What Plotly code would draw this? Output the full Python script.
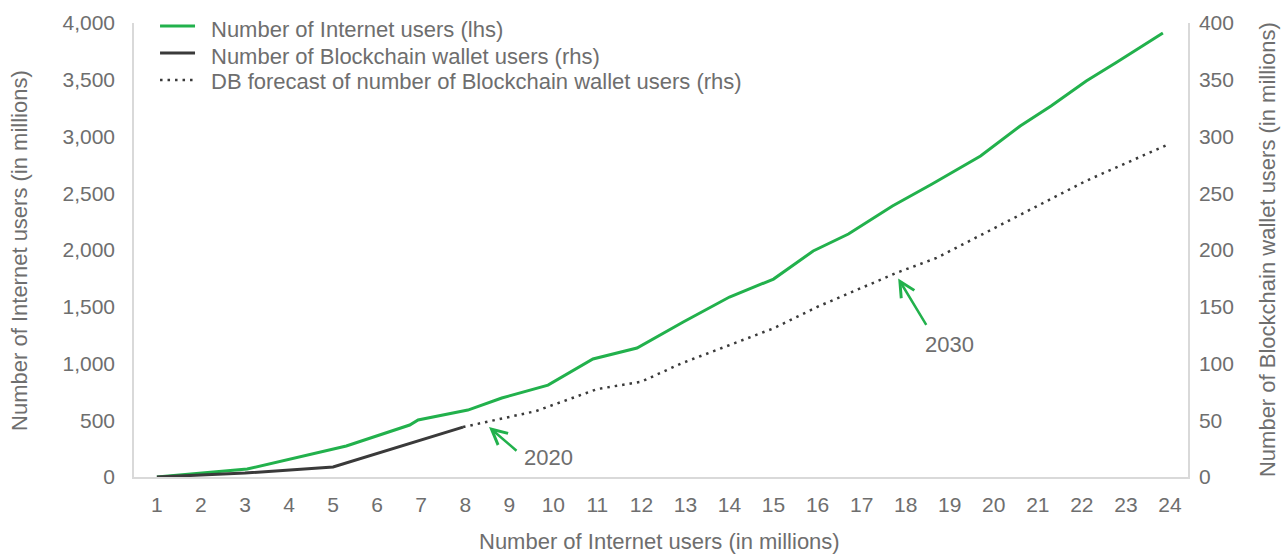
import plotly.graph_objects as go

# Data
internet_x = [1, 3.05, 5.3, 6.74, 6.93, 8.06, 8.83, 9.88, 10.9, 11.9, 12.95, 14.0, 15.0,
              15.9, 16.7, 17.7, 18.6, 19.7, 20.6, 21.3, 22.1, 22.8, 23.84]
internet_users = [0, 70, 273, 458, 502, 590, 696, 810, 1040, 1136, 1366, 1586, 1744,
                  1991, 2141, 2388, 2581, 2828, 3092, 3269, 3489, 3656, 3912]

wallet_x = [1, 3.0, 5.0, 6.8, 7.95]
wallet_users = [0, 3.5, 8.8, 30, 44]

forecast_x = [7.95, 9.6, 11.0, 12.0, 12.9, 15.0, 16.0, 17.8, 18.7, 22.1, 23.9]
forecast_users = [44, 58, 77.5, 84, 100, 131, 150, 180, 193, 261, 292]

series_names = ["Number of Internet users (lhs)",
                "Number of Blockchain wallet users (rhs)",
                "DB forecast of number of Blockchain wallet users (rhs)"]

x_ticks = list(range(1, 25))
left_ticks = list(range(0, 4001, 500))
right_ticks = list(range(0, 401, 50))

GREEN = "#22b14c"
DARK = "#3a3a3a"
GREY = "#6e6e6e"
AXIS = "#d9d9d9"
FONT = "Liberation Sans, Arial, sans-serif"
DOT = "2.5px,5px"

fig = go.Figure()
fig.add_trace(go.Scatter(x=internet_x, y=internet_users, mode="lines",
                         name=series_names[0],
                         line=dict(color=GREEN, width=3), yaxis="y"))
fig.add_trace(go.Scatter(x=wallet_x, y=wallet_users, mode="lines",
                         name=series_names[1],
                         line=dict(color=DARK, width=3), yaxis="y2"))
fig.add_trace(go.Scatter(x=forecast_x, y=forecast_users, mode="lines",
                         name=series_names[2],
                         line=dict(color=DARK, width=2.5, dash=DOT), yaxis="y2"))

# Legend drawn as key lines + text (top-left inside plot)
legend_styles = [dict(color=GREEN, width=3), dict(color=DARK, width=3),
                 dict(color=DARK, width=2.5, dash=DOT)]
line_y = [0.9934, 0.9339, 0.8744]
text_y = [0.9846, 0.9273, 0.8722]
for name, st, ly, ty in zip(series_names, legend_styles, line_y, text_y):
    fig.add_shape(type="line", xref="paper", yref="paper", x0=0.0247, x1=0.0579,
                  y0=ly, y1=ly, line=st)
    fig.add_annotation(x=0.0712, y=ty, xref="paper", yref="paper", text=name,
                       showarrow=False, xanchor="left", yanchor="middle",
                       font=dict(size=22, color=GREY, family=FONT))

# Arrows (no text) and labels
fig.add_annotation(x=8.54, y=44, xref="x", yref="y2", ax=29, ay=25, text="",
                   showarrow=True, arrowhead=5, arrowsize=1.2, arrowwidth=2.5, arrowcolor=GREEN)
fig.add_annotation(x=17.83, y=175, xref="x", yref="y2", ax=29, ay=48, text="",
                   showarrow=True, arrowhead=5, arrowsize=1.2, arrowwidth=2.5, arrowcolor=GREEN)
fig.add_annotation(x=9.88, y=17.6, xref="x", yref="y2", text="2020", showarrow=False,
                   xanchor="center", yanchor="middle",
                   font=dict(size=22, color=GREY, family=FONT))
fig.add_annotation(x=18.99, y=117, xref="x", yref="y2", text="2030", showarrow=False,
                   xanchor="center", yanchor="middle",
                   font=dict(size=22, color=GREY, family=FONT))

# Axis titles
fig.add_annotation(x=-0.1092, y=0.5, xref="paper", yref="paper", textangle=-90,
                   xanchor="center", yanchor="middle",
                   text="Number of Internet users (in millions)", showarrow=False,
                   font=dict(size=22, color=GREY, family=FONT))
fig.add_annotation(x=1.075, y=0.5, xref="paper", yref="paper", textangle=-90,
                   xanchor="center", yanchor="middle",
                   text="Number of Blockchain wallet users (in millions)", showarrow=False,
                   font=dict(size=22, color=GREY, family=FONT))
fig.add_annotation(x=0.499, y=-0.141, xref="paper", yref="paper",
                   xanchor="center", yanchor="middle",
                   text="Number of Internet users (in millions)", showarrow=False,
                   font=dict(size=22, color=GREY, family=FONT))

fig.update_layout(
    width=1285, height=554,
    margin=dict(l=134, r=97, t=23, b=77),
    paper_bgcolor="white", plot_bgcolor="white",
    font=dict(family=FONT, size=21, color=GREY),
    showlegend=False,
    xaxis=dict(range=[0.48, 24.41], tickmode="array", tickvals=x_ticks,
               ticktext=[str(v) for v in x_ticks], showgrid=False, zeroline=False,
               showline=True, linecolor=AXIS, linewidth=1.5, ticks="",
               automargin=False, ticklabelstandoff=8,
               tickfont=dict(size=21, color=GREY)),
    yaxis=dict(range=[0, 4000], tickmode="array", tickvals=left_ticks,
               ticktext=[f"{v:,}" for v in left_ticks], showgrid=False, zeroline=False,
               showline=True, linecolor=AXIS, linewidth=1.5, ticks="",
               automargin=False, ticklabelstandoff=13,
               tickfont=dict(size=21, color=GREY)),
    yaxis2=dict(range=[0, 400], tickmode="array", tickvals=right_ticks,
                overlaying="y", side="right", showgrid=False, zeroline=False,
                showline=True, linecolor=AXIS, linewidth=1.5, ticks="",
                automargin=False, ticklabelstandoff=5,
                tickfont=dict(size=21, color=GREY)),
)

# Remove the page's default 8px body margin so the figure fills the window exactly
fig.write_html("out.html", config={"displayModeBar": False},
               post_script="document.body.style.margin='0';")
